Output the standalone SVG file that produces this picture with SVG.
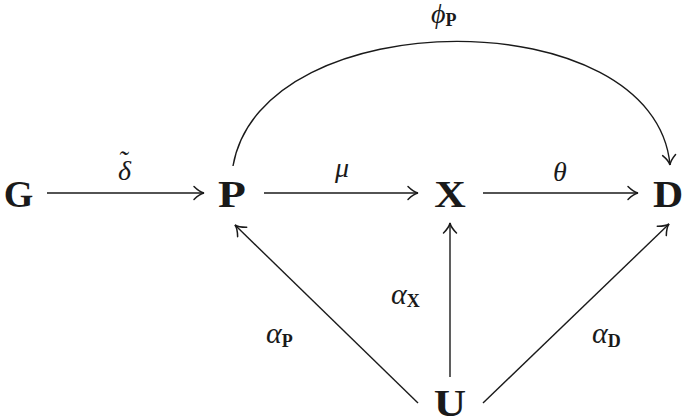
<svg xmlns="http://www.w3.org/2000/svg" width="685" height="420" viewBox="0 0 685 420">
<style>
.node{font-family:"Liberation Serif","Times New Roman",serif;font-weight:bold;font-size:38px;fill:#1a1a1a;text-anchor:middle}
.lbl{font-family:"Liberation Serif","Times New Roman",serif;font-style:italic;font-size:28px;fill:#1a1a1a}
.al{font-size:30px}
.sub{font-family:"Liberation Serif","Times New Roman",serif;font-weight:bold;font-style:normal;font-size:18px}
.edge{fill:none;stroke:#1a1a1a;stroke-width:1.4;marker-end:url(#arr)}
</style>
<defs>
<marker id="arr" markerUnits="userSpaceOnUse" viewBox="-12 -8 14 16" refX="0" refY="0" markerWidth="14" markerHeight="16" orient="auto" overflow="visible">
<path d="M -10,-6.5 C -6,-2.5 -3,-0.6 0,0 C -3,0.6 -6,2.5 -10,6.5" fill="none" stroke="#1a1a1a" stroke-width="1.5" stroke-linecap="round"/>
</marker>
</defs>
<g id="connectors">
<line class="edge" x1="47" y1="193" x2="204" y2="193"/>
<line class="edge" x1="264" y1="193" x2="418" y2="193"/>
<line class="edge" x1="483" y1="193" x2="638" y2="193"/>
<path class="edge" d="M 233,166 C 262,0 655,0 670,165"/>
<line class="edge" x1="418" y1="403" x2="235" y2="225"/>
<line class="edge" x1="450" y1="377" x2="450" y2="223"/>
<line class="edge" x1="483" y1="403" x2="669" y2="224"/>
<text class="lbl" x="118" y="180">δ<tspan dx="-13" dy="-10">˜</tspan></text>
<text class="lbl" x="342" y="177" text-anchor="middle">μ</text>
<text class="lbl" x="560" y="181" text-anchor="middle">θ</text>
<text class="lbl" x="431" y="23">ϕ<tspan class="sub" dy="3">P</tspan></text>
<text class="lbl al" x="266" y="343">α<tspan class="sub" dy="4">P</tspan></text>
<text class="lbl al" x="391" y="304">α<tspan class="sub" dy="3">X</tspan></text>
<text class="lbl al" x="592" y="343">α<tspan class="sub" dy="4">D</tspan></text>
</g>
<g id="node-G"><text class="node" x="18.5" y="207">G</text></g>
<g id="node-P"><text class="node" transform="translate(232,207) scale(1.2,1)">P</text></g>
<g id="node-X"><text class="node" transform="translate(450,207) scale(1.15,1)">X</text></g>
<g id="node-D"><text class="node" transform="translate(668,207) scale(1.1,1)">D</text></g>
<g id="node-U"><text class="node" transform="translate(450,416) scale(1.18,1)">U</text></g>
</svg>
